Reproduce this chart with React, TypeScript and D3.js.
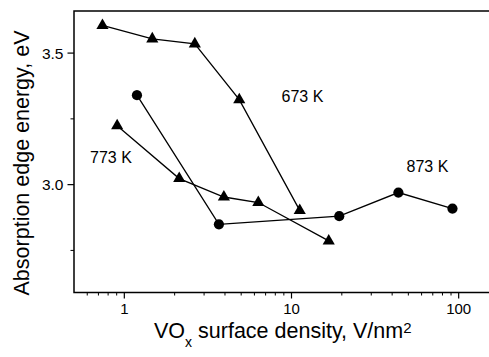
import React from "react";
import * as d3 from "d3";

const x673 = [0.74, 1.47, 2.64, 4.87, 11.2];
const y673 = [3.605, 3.554, 3.535, 3.323, 2.902];
const x773 = [0.906, 2.13, 3.94, 6.33, 16.7];
const y773 = [3.224, 3.023, 2.953, 2.932, 2.786];
const x873 = [1.19, 3.68, 19.3, 43.6, 91.8];
const y873 = [3.34, 2.849, 2.88, 2.97, 2.909];

const xMajor = [1, 10, 100];
const xMajorLabels = ["1", "10", "100"];
const yMajor = [3.0, 3.5];
const yMajorLabels = ["3.0", "3.5"];
const yMinor = [2.75, 3.25];

const labels = [
  { text: "673 K", x: 281.5, y: 101.5 },
  { text: "773 K", x: 90, y: 162.5 },
  { text: "873 K", x: 406.5, y: 172 },
];

const W = 489;
const H = 357;
const FONT = "'Liberation Sans', Arial, sans-serif";

export default function App() {
  const x = d3.scaleLog().domain([0.5, 200]).range([74, 509]);
  const y = d3.scaleLinear().domain([2.59, 3.66]).range([292.5, 11]);

  const xMinor: number[] = [];
  [0.1, 1, 10, 100].forEach((dec) => {
    for (let k = 2; k <= 9; k++) {
      const v = dec * k;
      if (v > 0.5 && v < 200) xMinor.push(v);
    }
  });

  const line = d3
    .line<[number, number]>()
    .x((d) => x(d[0]))
    .y((d) => y(d[1]));

  const tri = d3.symbol().type(d3.symbolTriangle).size(64)()!;
  const circ = d3.symbol().type(d3.symbolCircle).size(82)()!;

  const series = [
    { xs: x673, ys: y673, m: tri },
    { xs: x773, ys: y773, m: tri },
    { xs: x873, ys: y873, m: circ },
  ];

  const x0 = x.range()[0];
  const yb = y.range()[0];
  const yt = y.range()[1];

  return (
    <svg
      width={W}
      height={H}
      style={{ position: "absolute", left: 0, top: 0, background: "#fff" }}
      fontFamily={FONT}
    >
      <rect x={0} y={0} width={W} height={H} fill="#fff" />
      {series.map((s, i) => (
        <g key={i}>
          <path
            d={line(s.xs.map((v, j) => [v, s.ys[j]] as [number, number]))!}
            fill="none"
            stroke="#000"
            strokeWidth={1.3}
          />
          {s.xs.map((v, j) => (
            <path
              key={j}
              d={s.m}
              transform={`translate(${x(v)},${y(s.ys[j])})`}
              fill="#000"
            />
          ))}
        </g>
      ))}
      {/* frame */}
      <path
        d={`M${W + 5},${yt}H${x0}V${yb}H${W + 5}`}
        fill="none"
        stroke="#000"
        strokeWidth={1.5}
      />
      {/* x ticks */}
      {xMinor.map((v, i) => (
        <line key={"xm" + i} x1={x(v)} x2={x(v)} y1={yb} y2={yb + 3} stroke="#000" strokeWidth={1} />
      ))}
      {xMajor.map((v, i) => (
        <g key={"xM" + i}>
          <line x1={x(v)} x2={x(v)} y1={yb} y2={yb + 6} stroke="#000" strokeWidth={1.2} />
          <text x={x(v)} y={yb + 21} textAnchor="middle" fontSize={15}>
            {xMajorLabels[i]}
          </text>
        </g>
      ))}
      {/* y ticks */}
      {yMinor.map((v, i) => (
        <line key={"ym" + i} x1={x0 - 3.5} x2={x0} y1={y(v)} y2={y(v)} stroke="#000" strokeWidth={1} />
      ))}
      {yMajor.map((v, i) => (
        <g key={"yM" + i}>
          <line x1={x0 - 6.5} x2={x0} y1={y(v)} y2={y(v)} stroke="#000" strokeWidth={1.2} />
          <text x={x0 - 10.5} y={y(v)} dy="0.36em" textAnchor="end" fontSize={15.5}>
            {yMajorLabels[i]}
          </text>
        </g>
      ))}
      {/* annotations */}
      {labels.map((l, i) => (
        <text key={"l" + i} x={l.x} y={l.y} fontSize={16}>
          {l.text}
        </text>
      ))}
      {/* axis titles */}
      <text x={154} y={338} fontSize={21.5}>
        VO
        <tspan fontSize={14} dy={9}>x</tspan>
        <tspan dy={-9}> surface density, V/nm</tspan>
        <tspan fontSize={15} dy={-5}>2</tspan>
      </text>
      <text
        transform={`translate(28.5,163) rotate(-90)`}
        textAnchor="middle"
        fontSize={21.5}
      >
        Absorption edge energy, eV
      </text>
    </svg>
  );
}
